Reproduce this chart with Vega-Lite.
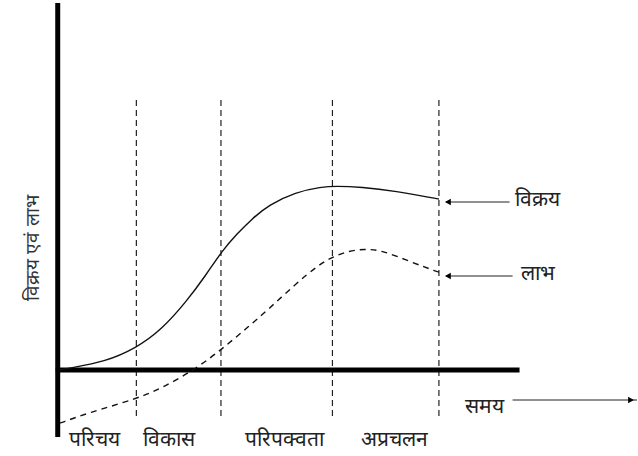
{
  "$schema": "https://vega.github.io/schema/vega-lite/v6.json",
  "width": 638,
  "height": 456,
  "autosize": {"type": "fit", "contains": "padding"},
  "padding": 0,
  "background": "white",
  "config": {"view": {"stroke": null}},
  "datasets": {
    "sales": [
      {"t": 2, "v": 0}, {"t": 12, "v": 2}, {"t": 47, "v": 8}, {"t": 79, "v": 22},
      {"t": 104, "v": 40}, {"t": 129, "v": 68}, {"t": 149, "v": 95}, {"t": 165, "v": 119},
      {"t": 180, "v": 136}, {"t": 195, "v": 151}, {"t": 212, "v": 165}, {"t": 239, "v": 178},
      {"t": 265, "v": 183}, {"t": 279, "v": 184}, {"t": 305, "v": 183}, {"t": 339, "v": 179},
      {"t": 382, "v": 171}, {"t": 383, "v": 171}
    ],
    "profit": [
      {"t": 2, "v": -53}, {"t": 3, "v": -53}, {"t": 30, "v": -43}, {"t": 79, "v": -29}, {"t": 107, "v": -17},
      {"t": 140, "v": 2}, {"t": 165, "v": 21}, {"t": 189, "v": 41}, {"t": 212, "v": 61},
      {"t": 239, "v": 86}, {"t": 262, "v": 105}, {"t": 276, "v": 113}, {"t": 292, "v": 119},
      {"t": 308, "v": 121}, {"t": 325, "v": 120}, {"t": 355, "v": 108}, {"t": 382, "v": 98}, {"t": 383, "v": 98}
    ],
    "axes": [
      {"x1": 0, "x2": 0, "y1": -67, "y2": 367},
      {"x1": -2, "x2": 464, "y1": 0, "y2": 0}
    ],
    "phases": [
      {"t": 79}, {"t": 164}, {"t": 276}, {"t": 383}
    ],
    "arrows": [
      {"x1": 390, "x2": 454, "y1": 168, "y2": 168},
      {"x1": 390, "x2": 457, "y1": 94, "y2": 94},
      {"x1": 457, "x2": 582, "y1": -30, "y2": -30}
    ],
    "heads": [
      {"x": 392, "y": 168, "shape": "triangle-left"},
      {"x": 392, "y": 94, "shape": "triangle-left"},
      {"x": 576, "y": -30, "shape": "triangle-right"}
    ],
    "sidelabels": [
      {"x": 459, "y": 170, "label": "विक्रय"},
      {"x": 465, "y": 96, "label": "लाभ"},
      {"x": 409, "y": -37, "label": "समय"}
    ],
    "phaselabels": [
      {"x": 37, "y": -70, "label": "परिचय"},
      {"x": 112, "y": -70, "label": "विकास"},
      {"x": 228, "y": -70, "label": "परिपक्वता"},
      {"x": 338, "y": -70, "label": "अप्रचलन"}
    ],
    "ytitle": [
      {"x": -25, "y": 122, "label": "विक्रय एवं लाभ"}
    ]
  },
  "layer": [
    {
      "data": {"name": "phases"},
      "mark": {"type": "rule", "strokeDash": [6, 4], "strokeWidth": 1.2, "color": "#222"},
      "encoding": {
        "x": {"field": "t", "type": "quantitative", "scale": {"domain": [-58, 580], "nice": false, "zero": false}, "axis": null},
        "y": {"datum": 270, "type": "quantitative", "scale": {"domain": [-86, 370], "nice": false, "zero": false}, "axis": null},
        "y2": {"datum": -50}
      }
    },
    {
      "data": {"name": "axes"},
      "mark": {"type": "rule", "strokeWidth": 5, "color": "#000"},
      "encoding": {
        "x": {"field": "x1", "type": "quantitative", "scale": {"domain": [-58, 580], "nice": false, "zero": false}, "axis": null},
        "x2": {"field": "x2"},
        "y": {"field": "y1", "type": "quantitative", "scale": {"domain": [-86, 370], "nice": false, "zero": false}, "axis": null},
        "y2": {"field": "y2"}
      }
    },
    {
      "data": {"name": "sales"},
      "mark": {"type": "line", "interpolate": "basis", "strokeWidth": 1.4, "color": "#111"},
      "encoding": {
        "x": {"field": "t", "type": "quantitative", "scale": {"domain": [-58, 580], "nice": false, "zero": false}, "axis": null},
        "y": {"field": "v", "type": "quantitative", "scale": {"domain": [-86, 370], "nice": false, "zero": false}, "axis": null}
      }
    },
    {
      "data": {"name": "profit"},
      "mark": {"type": "line", "interpolate": "basis", "strokeWidth": 1.4, "strokeDash": [6, 5], "color": "#111"},
      "encoding": {
        "x": {"field": "t", "type": "quantitative", "scale": {"domain": [-58, 580], "nice": false, "zero": false}, "axis": null},
        "y": {"field": "v", "type": "quantitative", "scale": {"domain": [-86, 370], "nice": false, "zero": false}, "axis": null}
      }
    },
    {
      "data": {"name": "arrows"},
      "mark": {"type": "rule", "strokeWidth": 1, "color": "#222"},
      "encoding": {
        "x": {"field": "x1", "type": "quantitative", "scale": {"domain": [-58, 580], "nice": false, "zero": false}, "axis": null},
        "x2": {"field": "x2"},
        "y": {"field": "y1", "type": "quantitative", "scale": {"domain": [-86, 370], "nice": false, "zero": false}, "axis": null},
        "y2": {"field": "y2"}
      }
    },
    {
      "data": {"name": "heads"},
      "mark": {"type": "point", "filled": true, "size": 45, "color": "#000", "opacity": 1},
      "encoding": {
        "x": {"field": "x", "type": "quantitative", "scale": {"domain": [-58, 580], "nice": false, "zero": false}, "axis": null},
        "y": {"field": "y", "type": "quantitative", "scale": {"domain": [-86, 370], "nice": false, "zero": false}, "axis": null},
        "shape": {"field": "shape", "type": "nominal", "scale": null, "legend": null}
      }
    },
    {
      "data": {"name": "sidelabels"},
      "mark": {"type": "text", "fontSize": 21, "color": "#222", "baseline": "middle", "align": "left"},
      "encoding": {
        "x": {"field": "x", "type": "quantitative", "scale": {"domain": [-58, 580], "nice": false, "zero": false}, "axis": null},
        "y": {"field": "y", "type": "quantitative", "scale": {"domain": [-86, 370], "nice": false, "zero": false}, "axis": null},
        "text": {"field": "label"}
      }
    },
    {
      "data": {"name": "phaselabels"},
      "mark": {"type": "text", "fontSize": 21, "color": "#222", "baseline": "middle", "align": "center"},
      "encoding": {
        "x": {"field": "x", "type": "quantitative", "scale": {"domain": [-58, 580], "nice": false, "zero": false}, "axis": null},
        "y": {"field": "y", "type": "quantitative", "scale": {"domain": [-86, 370], "nice": false, "zero": false}, "axis": null},
        "text": {"field": "label"}
      }
    },
    {
      "data": {"name": "ytitle"},
      "mark": {"type": "text", "fontSize": 19, "color": "#333", "angle": 270, "baseline": "middle", "align": "center"},
      "encoding": {
        "x": {"field": "x", "type": "quantitative", "scale": {"domain": [-58, 580], "nice": false, "zero": false}, "axis": null},
        "y": {"field": "y", "type": "quantitative", "scale": {"domain": [-86, 370], "nice": false, "zero": false}, "axis": null},
        "text": {"field": "label"}
      }
    }
  ]
}
